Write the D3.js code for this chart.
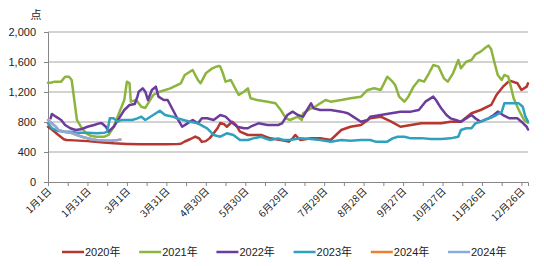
<!DOCTYPE html>
<html><head><meta charset="utf-8">
<script src="https://cdn.jsdelivr.net/npm/d3@7"></script>
<style>
html,body{margin:0;padding:0;background:#fff;}
svg{display:block;font-family:"Liberation Sans","Noto Sans CJK SC",sans-serif;}
</style></head>
<body><svg id="c" width="544" height="266"></svg>
<script>
// ---- data ----
const yTicks = [0, 400, 800, 1200, 1600, 2000];
const xLabelDays = [0, 30, 60, 90, 120, 150, 180, 210, 240, 270, 300, 330, 360];
const xLabels = ["1月1日","1月31日","3月1日","3月31日","4月30日","5月30日","6月29日","7月29日","8月28日","9月27日","10月27日","11月26日","12月26日"];
const seriesNames = ["2020年","2021年","2022年","2023年","2024年","2024年"];

const days2020 = [0,3,7,12,14,20,30,40,50,60,70,80,90,98,101,104,108,112,115,117,120,123,126,129,131,134,136,138,140,143,146,152,162,169,177,183,186,188,190,192,200,207,215,223,230,238,245,253,261,268,276,284,299,306,314,322,329,337,341,346,351,357,360,364,365];
const vals2020 = [737,700,640,570,560,555,545,530,516,508,503,503,503,505,510,540,570,605,580,535,545,585,650,720,787,770,737,770,804,760,671,627,627,582,560,538,580,627,590,560,582,582,560,693,737,760,849,871,804,737,760,782,782,804,804,916,960,1027,1160,1271,1351,1316,1227,1271,1316];

const days2021 = [0,2,5,10,13,16,18,20,22,25,29,33,37,43,46,50,54,58,60,62,63,67,71,74,80,85,93,101,104,110,114,116,120,125,128,130,131,133,135,139,141,145,149,152,154,159,167,173,177,181,184,190,193,194,200,204,207,211,215,223,230,238,243,248,253,258,262,264,267,271,274,278,282,286,289,293,297,301,304,308,312,314,318,322,325,329,332,335,337,339,342,345,347,350,352,354,358,362,365];
const vals2021 = [1324,1324,1338,1338,1404,1404,1360,1093,827,737,649,613,604,604,627,737,916,1093,1338,1316,1071,1093,1004,987,1160,1204,1249,1316,1427,1493,1360,1316,1449,1516,1538,1547,1538,1449,1338,1360,1293,1160,1204,1249,1116,1093,1071,1049,960,849,827,871,827,916,982,1013,1049,1093,1071,1093,1116,1138,1227,1249,1227,1404,1338,1293,1138,1071,1138,1271,1360,1338,1427,1560,1538,1382,1338,1449,1627,1516,1604,1627,1700,1738,1782,1820,1770,1627,1427,1360,1427,1404,1271,1120,960,827,790];

const days2022 = [2,3,6,10,13,17,21,25,30,35,39,41,44,46,50,54,58,62,66,68,69,72,74,76,79,82,84,88,91,95,99,102,106,110,114,117,121,126,131,135,139,144,149,152,154,160,167,175,178,182,186,190,194,197,200,202,207,215,223,228,232,238,243,245,253,261,268,276,282,287,293,295,299,303,306,310,314,318,322,325,329,335,339,342,346,351,357,360,364,365];
const vals2022 = [849,907,871,827,760,716,693,702,737,760,782,783,737,671,737,849,960,1027,1040,1138,1204,1249,1204,1093,1227,1271,1138,1093,1093,960,827,737,782,827,782,849,849,827,893,871,804,737,716,716,737,782,760,760,782,893,938,893,871,960,1049,982,960,960,938,916,871,804,827,871,893,916,938,938,960,1071,1138,1093,982,893,849,827,804,849,893,849,804,849,893,938,893,849,849,804,737,700];

const days2023 = [0,3,7,12,17,22,30,37,43,45,47,50,53,56,60,64,68,71,74,80,85,89,95,98,103,108,114,121,126,131,136,141,146,152,156,162,165,169,175,179,184,192,200,207,215,223,230,238,245,249,253,258,262,266,271,276,284,291,299,306,312,314,318,322,325,329,333,337,341,345,347,354,358,361,363,365];
const vals2023 = [782,716,684,671,671,658,658,649,658,670,849,849,804,827,827,827,849,871,827,893,951,893,871,849,827,804,782,716,627,604,649,627,560,560,582,604,582,560,582,560,560,582,573,560,538,560,550,560,560,538,538,538,582,604,604,582,585,573,573,582,604,693,716,716,782,804,836,860,893,935,1049,1049,1049,1004,871,804];

const days2024 = [0,3,6,8,12,17,22,27,33,37,43,48,53,55];
const vals2024 = [827,782,737,693,671,658,627,596,569,560,555,551,560,565];

const colors = ["#B5372F","#8DB43E","#6C3C9C","#2FA0BE","#EE7D31","#8EA9DB"];

// ---- chart ----
const svg = d3.select("#c");
const x = d3.scaleLinear().domain([0, 365]).range([48, 528]);
const y = d3.scaleLinear().domain([0, 2000]).range([182, 32]);

// gridlines
svg.append("g").selectAll("line").data(yTicks.filter(d => d > 0)).join("line")
  .attr("x1", 48).attr("x2", 528)
  .attr("y1", d => y(d)).attr("y2", d => y(d))
  .attr("stroke", "#A6A6A6").attr("stroke-width", 1);

// y axis
const yAxis = d3.axisLeft(y).tickValues(yTicks).tickSize(4).tickPadding(8)
  .tickFormat(d3.format(","));
const gy = svg.append("g").attr("transform", "translate(48,0)").call(yAxis);
gy.select(".domain").attr("stroke", "#868686");
gy.selectAll(".tick line").attr("stroke", "#868686");
gy.selectAll(".tick text").attr("font-size", 11).attr("fill", "#222")
  .attr("font-family", "Liberation Sans, sans-serif");

svg.append("text").attr("x", 36).attr("y", 19).attr("text-anchor", "middle")
  .attr("font-size", 11).attr("fill", "#222")
  .attr("font-family", "Noto Sans CJK SC, sans-serif").text("点");

// x axis
const tickDays = d3.range(0, 361, 15);
const xAxis = d3.axisBottom(x).tickValues(tickDays).tickSize(4).tickFormat("");
const gx = svg.append("g").attr("transform", "translate(0,182)").call(xAxis);
gx.select(".domain").attr("stroke", "#868686");
gx.selectAll(".tick line").attr("stroke", "#868686");

svg.append("g").selectAll("text").data(xLabelDays).join("text")
  .attr("transform", d => `translate(${x(d) + 4},${192}) rotate(-45)`)
  .attr("text-anchor", "end")
  .attr("font-size", 10).attr("fill", "#222")
  .attr("font-family", "Noto Sans CJK SC, sans-serif")
  .text((d, i) => xLabels[i]);

// lines
const mk = (ds, vs) => ds.map((d, i) => [d, vs[i]]);
const series = [
  mk(days2020, vals2020),
  mk(days2021, vals2021),
  mk(days2022, vals2022),
  mk(days2023, vals2023),
  mk(days2024, vals2024),
  mk(days2024, vals2024)
];
const line = d3.line().x(d => x(d[0])).y(d => y(d[1])).curve(d3.curveLinear);
svg.append("g").selectAll("path").data(series).join("path")
  .attr("d", line).attr("fill", "none")
  .attr("stroke", (d, i) => colors[i]).attr("stroke-width", 2.5)
  .attr("stroke-linejoin", "round").attr("stroke-linecap", "round");

// legend
const lg = svg.append("g").selectAll("g").data(seriesNames).join("g")
  .attr("transform", (d, i) => `translate(${62 + i * 77.2},252)`);
lg.append("line").attr("x1", 0).attr("x2", 22).attr("y1", 0).attr("y2", 0)
  .attr("stroke", (d, i) => colors[i]).attr("stroke-width", 2.5);
lg.append("text").attr("x", 23).attr("y", 4).attr("font-size", 11).attr("fill", "#222")
  .attr("font-family", "Liberation Sans, Noto Sans CJK SC, sans-serif").text(d => d);
</script></body></html>
